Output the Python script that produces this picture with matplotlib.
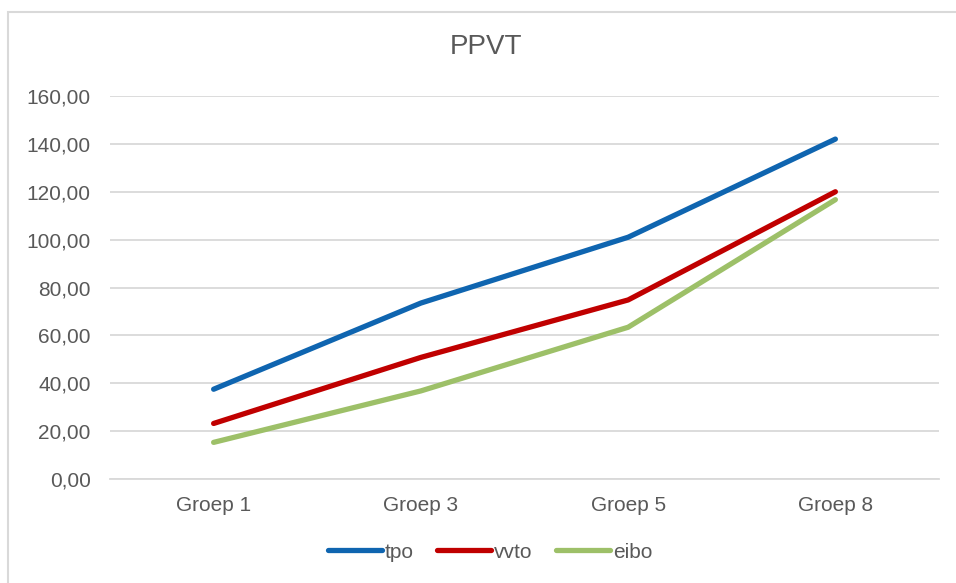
import matplotlib.pyplot as plt
from matplotlib.patches import Rectangle
from matplotlib.ticker import FuncFormatter

plt.rcParams['font.family'] = ['Liberation Sans', 'DejaVu Sans']

# DATA
categories = ['Groep 1', 'Groep 3', 'Groep 5', 'Groep 8']
tpo = [37.5, 73.5, 101.0, 142.0]
vvto = [23.2, 50.8, 74.8, 120.0]
eibo = [15.3, 36.8, 63.4, 116.7]

series = [
    ('tpo', tpo, '#0F65B0'),
    ('vvto', vvto, '#C00000'),
    ('eibo', eibo, '#9DC068'),
]

TEXT = '#595959'
GRID = '#D9D9D9'

# FIGURE
fig = plt.figure(figsize=(9.56, 5.83), dpi=100)
fig.patches.append(Rectangle((8 / 956, -0.1), 1.1, 1 - 12 / 583 + 0.1,
                             transform=fig.transFigure, fill=False,
                             edgecolor=GRID, linewidth=1.5))

ax = fig.add_axes([110 / 956, 1 - 479 / 583, 829 / 956, 383 / 583])

x = range(len(categories))
for name, values, color in series:
    ax.plot(x, values, color=color, linewidth=3.8, label=name,
            solid_capstyle='round', solid_joinstyle='round')

ax.set_xlim(-0.5, len(categories) - 0.5)
ax.set_ylim(0, 160)
ax.set_yticks(range(0, 161, 20))
ax.yaxis.set_major_formatter(FuncFormatter(lambda v, p: f'{v:.2f}'.replace('.', ',')))
ax.set_xticks(list(x))
ax.set_xticklabels(categories)

ax.grid(axis='y', color=GRID, linewidth=1.3)
ax.set_axisbelow(True)
for s in ['top', 'right', 'left']:
    ax.spines[s].set_visible(False)
ax.spines['bottom'].set_color(GRID)
ax.spines['bottom'].set_linewidth(1.3)

ax.tick_params(axis='y', length=0, pad=14, labelsize=15, labelcolor=TEXT)
ax.tick_params(axis='x', length=0, pad=12, labelsize=15, labelcolor=TEXT)

fig.text(486 / 956, 1 - 47 / 583, 'PPVT', ha='center', va='center',
         fontsize=20, color=TEXT)

fig.legend(loc='center', bbox_to_anchor=(490 / 956, 1 - 552 / 583), ncol=3,
           frameon=False, fontsize=15, handlelength=2.6, handletextpad=0.15,
           columnspacing=1.1, labelcolor=TEXT)

fig.savefig('out.png', dpi=100)
